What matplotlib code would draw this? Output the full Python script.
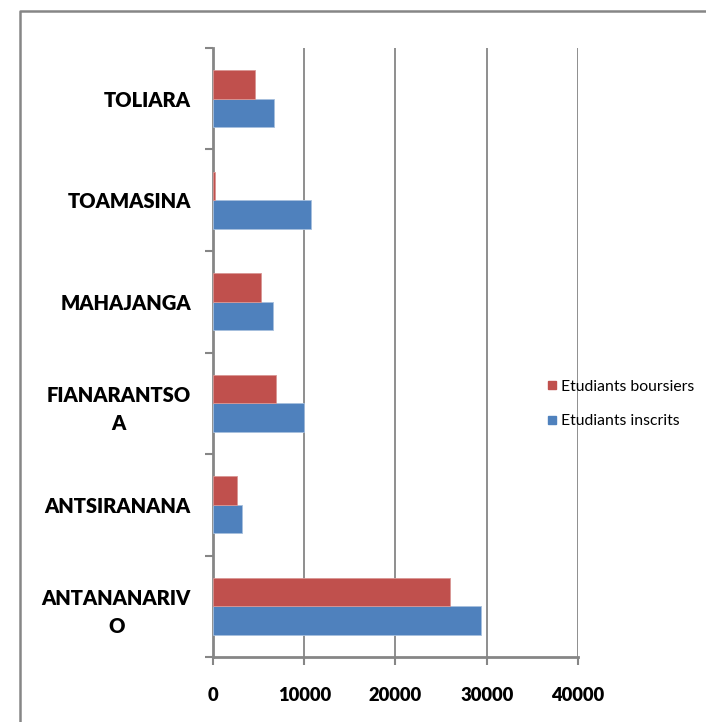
import numpy as np
import matplotlib.pyplot as plt
from matplotlib.lines import Line2D

# data (bottom to top)
regions = ['ANTANANARIV\nO', 'ANTSIRANANA', 'FIANARANTSO\nA',
           'MAHAJANGA', 'TOAMASINA', 'TOLIARA']
inscrits = [29400, 3200, 10000, 6600, 10750, 6650]
boursiers = [26000, 2600, 6900, 5250, 250, 4650]
xticks = [0, 10000, 20000, 30000, 40000]

blue = '#4F81BD'
red = '#C0504D'
grey = '#868686'

plt.rcParams['font.family'] = ['Lato', 'DejaVu Sans']

W, H = 706, 722
fig = plt.figure(figsize=(W / 100, H / 100), dpi=100)
ax = fig.add_axes([213 / W, 1 - 657 / H, (578 - 213) / W, (657 - 48) / H])

y = np.arange(len(regions))
h = 0.283
ax.barh(y - h / 2, inscrits, height=h, color=blue, edgecolor='#A7C0DE',
        linewidth=0.6, label='Etudiants inscrits', zorder=3)
ax.barh(y + h / 2, boursiers, height=h, color=red, edgecolor='#D99694',
        linewidth=0.6, label='Etudiants boursiers', zorder=3)

ax.set_xlim(0, 40000)
ax.set_ylim(-0.5, len(regions) - 0.5)
ax.set_xticks(xticks)
ax.set_xticklabels([str(v) for v in xticks])
ax.set_yticks(y)
ax.set_yticklabels(regions, linespacing=1.55)
ax.set_yticks(np.arange(-0.5, len(regions)), minor=True)

ax.tick_params(axis='y', which='major', length=0, pad=16)
ax.tick_params(axis='y', which='minor', length=6, width=1.5, color=grey, direction='out')
ax.tick_params(axis='x', length=6, width=1.5, color=grey, direction='out', pad=15.5)

for lab in ax.get_yticklabels():
    lab.set_multialignment('center')
    lab.set_fontsize(14.5)
    lab.set_fontweight('heavy')
for lab in ax.get_xticklabels():
    lab.set_fontsize(13.2)
    lab.set_fontweight('heavy')

ax.xaxis.grid(True, color=grey, linewidth=1.3, zorder=0)
for s in ['top', 'right']:
    ax.spines[s].set_visible(False)
for s in ['left', 'bottom']:
    ax.spines[s].set_color(grey)
    ax.spines[s].set_linewidth(2)

handles = [Line2D([], [], marker='s', linestyle='none', markersize=6,
                  color=red, label='Etudiants boursiers'),
           Line2D([], [], marker='s', linestyle='none', markersize=6,
                  color=blue, label='Etudiants inscrits')]
fig.legend(handles=handles, loc='center left', bbox_to_anchor=(547 / W, 1 - 404 / H),
           frameon=False, fontsize=11.3, handlelength=0.6, handletextpad=0.3,
           labelspacing=1.3, borderpad=0, borderaxespad=0)

# outer chart border (only left and top visible in the crop)
fig.add_artist(Line2D([20 / W, 20 / W, 1], [0, 1 - 11 / H, 1 - 11 / H],
                      transform=fig.transFigure, color=grey, linewidth=1.8))

fig.savefig('out.png', dpi=100)
